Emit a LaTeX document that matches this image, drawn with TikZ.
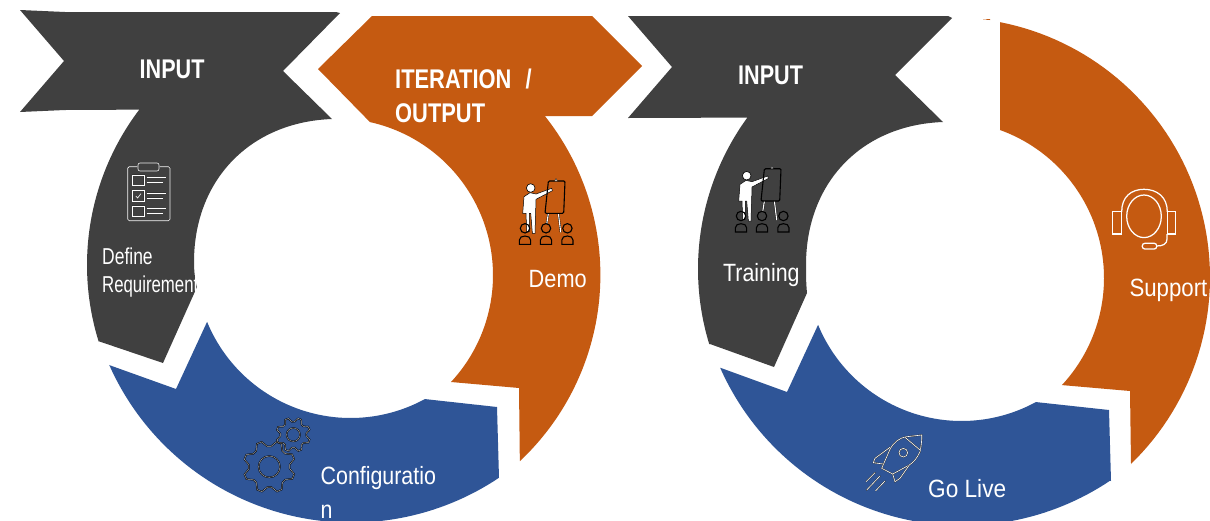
\documentclass[tikz,border=0pt]{standalone}
\usepackage{fontspec}
\setmainfont{Liberation Sans}
\definecolor{cdark}{HTML}{404040}
\definecolor{corange}{HTML}{C55A11}
\definecolor{cblue}{HTML}{2F5597}
\newcommand\rarc[5]{-- plot[domain=#4:#5,samples=70,variable=\t]({#1+#3*cos(\t)},{#2+#3*sin(\t)})}
\newcommand\gearpath[6]{plot[domain=0:#6,samples=\numexpr#6+1\relax,variable=\t]({#1+(mod(round(\t),4)<2?#3:#4)*cos(\t*360/#6+#5)},{#2+(mod(round(\t),4)<2?#3:#4)*sin(\t*360/#6+#5)}) -- cycle}
\tikzset{
  txtfont/.style n args={2}{font={\fontsize{#1}{#1}\selectfont\addfontfeatures{FakeStretch=#2}}},
  lbl/.style={anchor=base west,inner sep=0pt,text=white},
  icon/.style={draw=black!80,double=white,double distance=0.6pt,line width=0.4pt,fill=none},
  gearline/.style={draw=black,double=white!70!black,double distance=0.45pt,line width=0.5pt,fill=none},
  headline/.style={draw=white,line width=1.25pt,fill=none},
  presenter/.pic={
    \fill[white,draw=black,line width=.6pt] (0,0) circle (4.3);
    \draw[draw=black,double=white,line width=.35pt,double distance=1.1pt] (17.7,25.3) -- (16,36);
    \draw[draw=black,double=white,line width=.35pt,double distance=1.1pt] (27.7,25.3) -- (30,44.3);
    \fill[white,draw=black,line width=.5pt] (-6.7,8.7) -- (-.7,4.7) -- (5.3,6) -- (21,.3) -- (21.7,2.7) -- (5.3,11.3) -- (4.3,45.3) -- (1.7,45.3) -- (0,25.3) -- (-1.3,25.3) -- (-1.3,43.7) -- (-4,43.7) -- (-4.7,25.3) -- (-8,25.3) -- cycle;
    \draw[black,line width=1.1pt,rounded corners=1.2pt] (17.7,-7) -- (34.3,-7) -- (33,25.3) -- (14.3,25.3) -- cycle;
    \fill[white,draw=black,line width=.3pt] (23.8,-7) -- (25.3,-9.5) -- (26.8,-7) -- cycle;
    \foreach \px in {-5.7,15.3,36.7}{
      \draw[black,line width=1.1pt] (\px,40.3) circle (4.7);
      \draw[black,line width=1.1pt] (\px-5.6,56.3) -- (\px-5.6,52) .. controls (\px-5.6,49.3) and (\px-3,48) .. (\px,48) .. controls (\px+3,48) and (\px+5.6,49.3) .. (\px+5.6,52) -- (\px+5.6,56.3) -- cycle;
    }
  }
}
\begin{document}
\begin{tikzpicture}[x=1pt,y=-1pt]
\clip (0,0) rectangle (1210,520);
\fill[white] (0,0) rectangle (1210,520);

% ---------- left ring
\fill[cblue] (109,365) -- (176,389) -- (207,322) \rarc{350.6}{262.8}{155.2}{157.6}{61.4} -- (497,407) -- (499,478) \rarc{351.5}{257.6}{265}{56.2}{156.1} -- cycle;
\fill[corange] (372,16) -- (592,16) -- (642,66) -- (592,116) -- (545,116) \rarc{345}{275}{255.4}{-38.5}{46.8} -- (519,388) -- (451,382) \rarc{336.2}{275.2}{156.8}{42.9}{-77.56} -- (318,69) -- cycle;
\fill[cdark] (20,10) -- (65,12) -- (336,12) -- (340,13) -- (283,71) -- (332,119) .. controls (250,122) and (194,180) .. (194,262) .. controls (194,271) and (195,280) .. (197,287) -- (163,363) -- (98,341) \rarc{344}{265}{257}{162.8}{217.2} -- (65,110) -- (20,112) -- (64,61) -- cycle;

% ---------- right ring
\fill[cblue] (721,368) -- (787,392) -- (818,325) \rarc{961.6}{265.8}{155.2}{157.6}{61.4} -- (1109,410) -- (1111,481) \rarc{962.5}{260.6}{265}{56.2}{156.1} -- cycle;
\fill[corange] (1000,22) -- (1000,130) \rarc{946.7}{278}{157.3}{-70.2}{42.9} -- (1130,391) -- (1131,464) \rarc{950}{277.3}{260}{45.9}{-78.9} -- cycle;
\fill[corange] (983,19.5) -- (990,19) -- (990,20) -- cycle;
\fill[cdark] (628,16) -- (948,16) -- (952,18) -- (895,75) -- (943,122) .. controls (861,125) and (806,183) .. (806,265) .. controls (806,274) and (806,283) .. (807,293) -- (774,367) -- (710,344) \rarc{955}{269}{257}{163}{216.1} -- (628,118) -- (672,67) -- cycle;

% ---------- clipboard
\draw[icon,rounded corners=1.5pt] (127.7,166.7) rectangle (170,220.7);
\fill[cdark,draw=none,rounded corners=2pt] (138,163) rectangle (159,171);
\draw[icon,rounded corners=2pt] (138,163) rectangle (159,171);
\foreach \cy in {175,190.7,206}{
  \draw[icon] (132.7,\cy) rectangle (144,\cy+10.5);
  \draw[icon] (146.7,\cy+2.3) -- (165.7,\cy+2.3);
  \draw[icon] (146.7,\cy+7.3) -- (162.7,\cy+7.3);
}
\draw[white,line width=.6pt] (135.8,196) -- (137.6,198) -- (141,193.6);

% ---------- presenters
\pic at (530.7,188) {presenter};
\pic at (746.7,175.7) {presenter};

% ---------- gears
\draw[gearline] \gearpath{269.3}{466.7}{20.5}{26}{-6}{32};
\draw[gearline] (269.3,466.7) circle (10.7);
\draw[gearline] \gearpath{293.3}{434.7}{13}{17}{-6}{32};
\draw[gearline] (293.3,434.7) circle (6.7);

% ---------- rocket
\draw[icon] (890,449.3) .. controls (894,442) and (899,438) .. (906.7,436.7) -- (921.7,435) .. controls (922,441) and (921,447) .. (920,451.7) .. controls (917,458) and (914,462) .. (909.3,465) -- (892.7,474) -- (881.7,468.3) -- cycle;
\draw[icon] (905,437.3) -- (920,450);
\draw[icon] (890,447.3) -- (875,458.3) -- (873.3,462.7) -- (883.3,464);
\draw[icon] (909.3,465) -- (900,478.3) -- (895,481.7) -- (892.7,474);
\draw[icon] (903.3,452.7) circle (4.3);
\draw[icon,line cap=round] (875,472.7) -- (866,481.7);
\draw[icon,line cap=round] (880,476) -- (866.7,490);
\draw[icon,line cap=round] (885,481) -- (875.7,490.7);

% ---------- headset
\draw[headline] (1144,216.3) ellipse (17.3 and 21.3);
\draw[headline] (1112.7,211.7) rectangle (1121.7,234);
\draw[headline] (1167.3,211.7) rectangle (1175.7,234);
\draw[headline] (1121.7,211.7) .. controls (1121.7,197) and (1131,189.3) .. (1144,189.3) .. controls (1157,189.3) and (1167.3,197) .. (1167.3,211.7);
\draw[headline] (1167,234) -- (1167,239) .. controls (1167,244) and (1163,246) .. (1156.7,246);
\draw[headline,rounded corners=2.5pt] (1142.3,243.3) rectangle (1156.7,249);

% ---------- texts
\node[lbl,txtfont={27}{.8}] (t1) at (139.5,78) {\bfseries INPUT};
\node[lbl,txtfont={27}{.81}] (t2) at (395,88) {\bfseries ITERATION\hspace{8pt} /};
\node[lbl,txtfont={27}{.81}] (t3) at (395,122) {\bfseries OUTPUT};
\node[lbl,txtfont={27}{.8}] (t4) at (738,84) {\bfseries INPUT};
\node[lbl,txtfont={23}{.76}] (t5) at (102,264) {Define};
\node[lbl,txtfont={23}{.73}] (t6) at (102,292) {Requirements};
\node[lbl,txtfont={25}{.87}] (t7) at (528.5,287.5) {Demo};
\node[lbl,txtfont={25}{.855}] (t8) at (320.5,484) {Configuratio};
\node[lbl,txtfont={25}{.855}] (t9) at (320.5,518) {n};
\node[lbl,txtfont={25}{.855}] (t10) at (723,281) {Training};
\node[lbl,txtfont={25}{.89}] (t11) at (1129.3,296.7) {Support};
\node[lbl,txtfont={25}{.905}] (t12) at (928,497) {Go Live};
\end{tikzpicture}
\end{document}
